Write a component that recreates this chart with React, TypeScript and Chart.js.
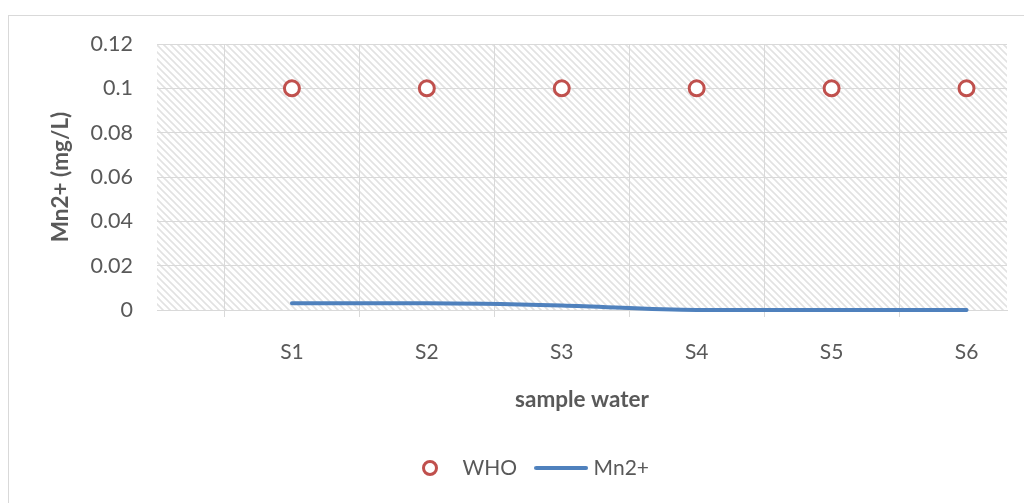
import React, { useEffect, useRef } from 'react';
import { Chart, registerables } from 'chart.js';

Chart.register(...registerables);

// Sample sites along the category axis
const sampleLabels = ['S1', 'S2', 'S3', 'S4', 'S5', 'S6'];
// WHO guideline value for manganese (mg/L)
const whoLimit = [0.1, 0.1, 0.1, 0.1, 0.1, 0.1];
// Measured Mn2+ concentration (mg/L)
const mnValues = [0.003, 0.003, 0.002, 0, 0, 0];

const yMin = 0;
const yMax = 0.12;
const yStep = 0.02;
const xMin = 0;
const xMax = 6.3;

const FONT = 'Lato, "Open Sans", sans-serif';
const TEXT = '#595959';
const GRID = '#d9d9d9';
const RED = '#c0504d';
const BLUE = '#4f81bd';

function makeHatch(ctx: CanvasRenderingContext2D) {
  const n = 7;
  const c = document.createElement('canvas');
  c.width = n;
  c.height = n;
  const g = c.getContext('2d')!;
  g.strokeStyle = '#e2e2e2';
  g.lineWidth = 1.6;
  g.beginPath();
  g.moveTo(-1, -1);
  g.lineTo(n + 1, n + 1);
  g.moveTo(-1, n - 1);
  g.lineTo(1, n + 1);
  g.moveTo(n - 1, -1);
  g.lineTo(n + 1, 1);
  g.stroke();
  return ctx.createPattern(c, 'repeat');
}

function legendMarker(kind: 'circle' | 'line') {
  const w = 54;
  const h = 20;
  const c = document.createElement('canvas');
  c.width = w;
  c.height = h;
  const g = c.getContext('2d')!;
  if (kind === 'circle') {
    g.beginPath();
    g.arc(w / 2, h / 2, 6.5, 0, Math.PI * 2);
    g.fillStyle = '#fff';
    g.fill();
    g.lineWidth = 3;
    g.strokeStyle = RED;
    g.stroke();
  } else {
    g.beginPath();
    g.moveTo(2, h / 2);
    g.lineTo(w - 2, h / 2);
    g.lineWidth = 4;
    g.lineCap = 'round';
    g.strokeStyle = BLUE;
    g.stroke();
  }
  return c;
}

export default function App() {
  const canvasRef = useRef<HTMLCanvasElement | null>(null);

  useEffect(() => {
    const canvas = canvasRef.current;
    if (!canvas) return;
    const ctx = canvas.getContext('2d')!;
    const hatch = makeHatch(ctx);
    const markers = [legendMarker('circle'), legendMarker('line')];

    const backdrop = {
      id: 'backdrop',
      beforeDraw(chart: any) {
        const c = chart.ctx;
        const a = chart.chartArea;
        c.save();
        c.fillStyle = '#ffffff';
        c.fillRect(0, 0, chart.width, chart.height);
        c.strokeStyle = GRID;
        c.lineWidth = 1;
        c.strokeRect(8.5, 15.5, chart.width + 40, chart.height + 40);
        if (hatch) {
          c.fillStyle = hatch;
          c.fillRect(a.left, a.top, a.right - a.left, a.bottom - a.top);
        }
        c.restore();
      },
    };

    const chart = new Chart(ctx, {
      type: 'line',
      data: {
        datasets: [
          {
            label: 'WHO',
            data: whoLimit.map((v, i) => ({ x: i + 1, y: v })),
            showLine: false,
            pointStyle: 'circle',
            pointRadius: 7.5,
            pointBorderWidth: 3,
            pointBorderColor: RED,
            pointBackgroundColor: '#ffffff',
            borderColor: RED,
            backgroundColor: '#ffffff',
            xAxisID: 'x',
            yAxisID: 'y',
          },
          {
            label: 'Mn2+',
            data: mnValues.map((v, i) => ({ x: i + 1, y: v })),
            borderColor: BLUE,
            backgroundColor: BLUE,
            borderWidth: 4,
            borderCapStyle: 'round',
            cubicInterpolationMode: 'monotone',
            pointRadius: 0,
            clip: 4,
            xAxisID: 'x',
            yAxisID: 'y',
          },
        ],
      },
      options: {
        animation: false,
        responsive: false,
        maintainAspectRatio: false,
        layout: { padding: { left: 50, right: 17, top: 44, bottom: 14.5 } },
        scales: {
          x: {
            type: 'linear',
            position: 'bottom',
            weight: 0,
            min: xMin,
            max: xMax,
            afterBuildTicks: (scale: any) => {
              scale.ticks = sampleLabels.map((_, i) => ({ value: i + 0.5 }));
            },
            afterFit: (scale: any) => {
              scale.height = 7;
            },
            ticks: { display: false },
            grid: { color: GRID, lineWidth: 1, drawTicks: true, tickLength: 7 },
            border: { display: true, color: GRID, width: 1 },
          },
          x2: {
            type: 'linear',
            position: 'bottom',
            weight: 1,
            min: xMin,
            max: xMax,
            afterBuildTicks: (scale: any) => {
              scale.ticks = sampleLabels.map((_, i) => ({ value: i + 1 }));
            },
            afterFit: (scale: any) => {
              scale.height = 118.5;
            },
            ticks: {
              padding: 23,
              color: TEXT,
              font: { family: FONT, size: 21 },
              maxRotation: 0,
              autoSkip: false,
              callback: (v: any) => sampleLabels[Math.round(Number(v)) - 1] ?? '',
            },
            grid: { display: false, drawTicks: false },
            border: { display: false },
            title: {
              display: true,
              text: 'sample water',
              color: TEXT,
              font: { family: FONT, size: 22.5, weight: 'bold' },
              padding: { top: 0, bottom: 22 },
            },
          },
          y: {
            type: 'linear',
            position: 'left',
            min: yMin,
            max: yMax,
            afterFit: (scale: any) => {
              scale.width = 107;
            },
            ticks: {
              stepSize: yStep,
              padding: 24,
              color: TEXT,
              font: { family: FONT, size: 21.5 },
              callback: (v: any) => String(Number(Number(v).toFixed(2))),
            },
            grid: { color: GRID, lineWidth: 1, drawTicks: false },
            border: { display: false },
            title: {
              display: true,
              text: 'Mn2+ (mg/L)',
              color: TEXT,
              font: { family: FONT, size: 22.5, weight: 'bold' },
              padding: { top: -3, bottom: 0 },
            },
          },
        },
        plugins: {
          legend: {
            display: true,
            position: 'bottom',
            labels: {
              color: TEXT,
              font: { family: FONT, size: 21 },
              padding: 22,
              usePointStyle: true,
              pointStyleWidth: 44,
              generateLabels: (ch: any) => {
                const items = Chart.defaults.plugins.legend.labels.generateLabels(ch);
                return items.map((it: any, i: number) => ({ ...it, pointStyle: markers[i] }));
              },
            },
          },
          tooltip: { enabled: false },
        },
      },
      plugins: [backdrop],
    } as any);

    return () => chart.destroy();
  }, []);

  return (
    <div style={{ position: 'absolute', left: 0, top: 0, width: 1024, height: 503, background: '#fff' }}>
      <canvas ref={canvasRef} width={1024} height={503} style={{ display: 'block', width: 1024, height: 503 }} />
    </div>
  );
}
